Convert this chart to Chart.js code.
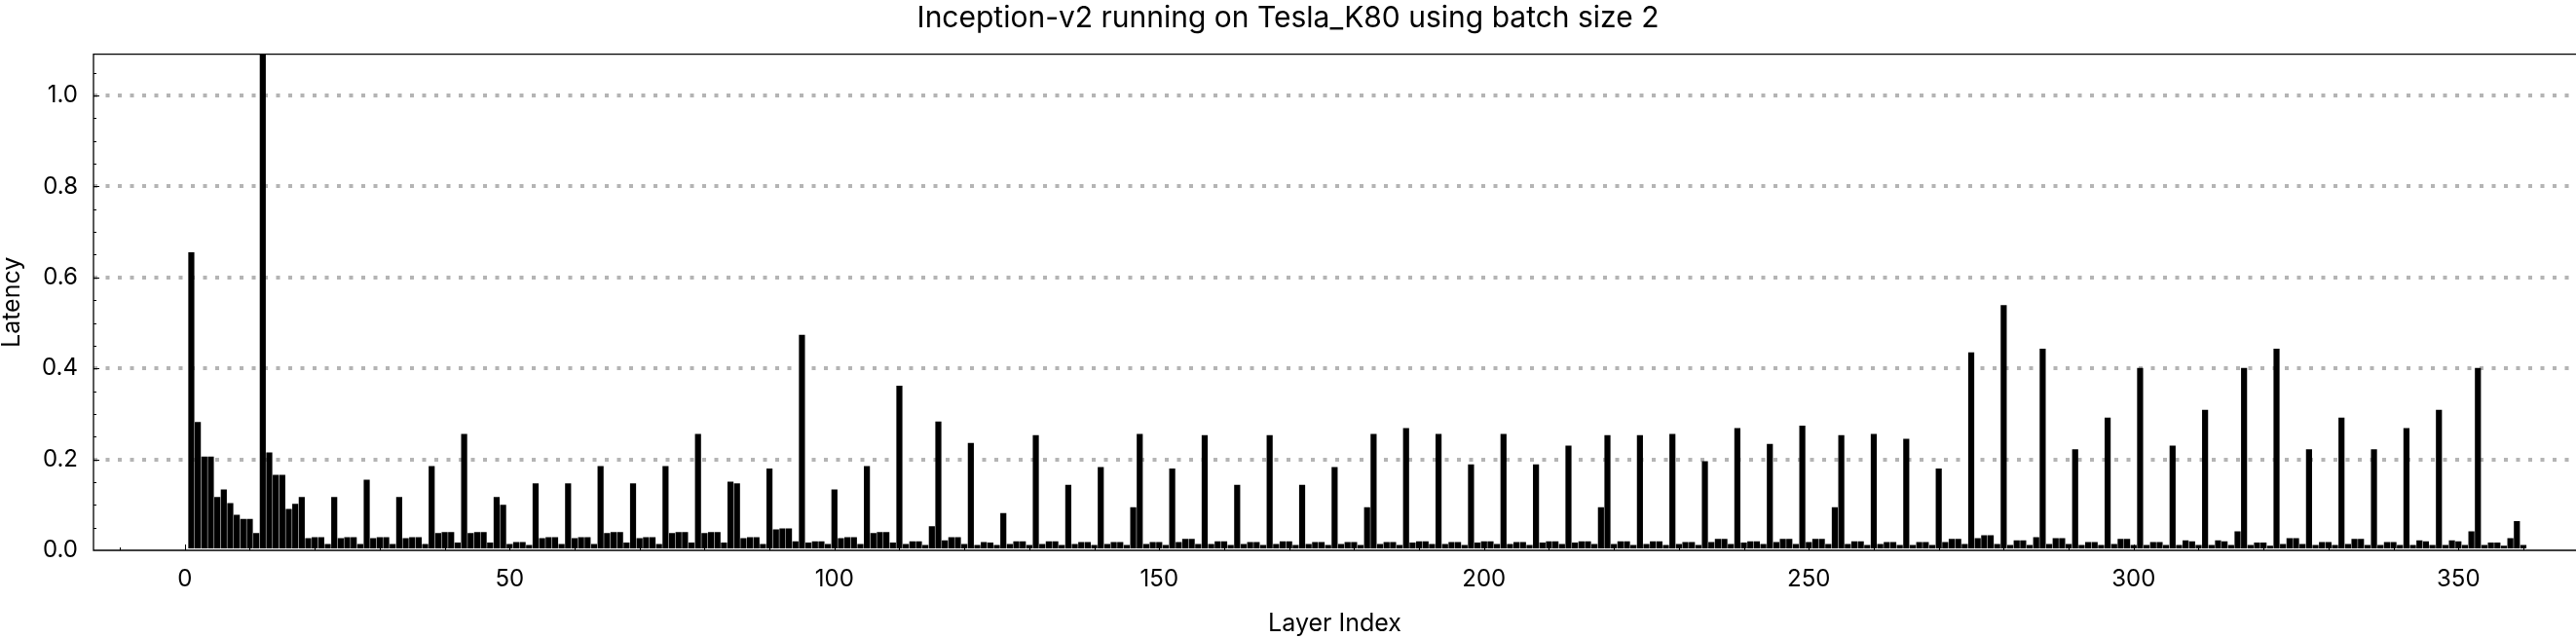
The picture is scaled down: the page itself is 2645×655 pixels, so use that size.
<!DOCTYPE html>
<html>
<head>
<meta charset="utf-8">
<script src="https://cdn.jsdelivr.net/npm/chart.js@4.4.1/dist/chart.umd.min.js"></script>
<style>
  html, body { margin: 0; padding: 0; background: #fff; }
  #wrap { width: 2645px; height: 655px; }
</style>
</head>
<body>
<div id="wrap"><canvas id="chart" width="2645" height="655"></canvas></div>
<script>
// latency per layer, layers 1..360 (layer 12 is clipped above the plot top)
const latency = [
    0.655, 0.282, 0.206, 0.206, 0.117, 0.134, 0.104, 0.078, 0.069, 0.069,
    0.038, 1.25, 0.215, 0.166, 0.166, 0.091, 0.102, 0.117, 0.027, 0.029,
    0.029, 0.014, 0.117, 0.027, 0.029, 0.029, 0.014, 0.155, 0.027, 0.029,
    0.029, 0.014, 0.117, 0.027, 0.029, 0.029, 0.014, 0.185, 0.038, 0.040,
    0.040, 0.017, 0.256, 0.038, 0.040, 0.040, 0.017, 0.117, 0.100, 0.014,
    0.018, 0.018, 0.012, 0.147, 0.027, 0.029, 0.029, 0.014, 0.147, 0.027,
    0.029, 0.029, 0.014, 0.185, 0.038, 0.040, 0.040, 0.017, 0.147, 0.027,
    0.029, 0.029, 0.014, 0.185, 0.038, 0.040, 0.040, 0.017, 0.256, 0.038,
    0.040, 0.040, 0.017, 0.151, 0.147, 0.027, 0.029, 0.029, 0.014, 0.180,
    0.046, 0.048, 0.048, 0.020, 0.474, 0.017, 0.020, 0.020, 0.014, 0.134,
    0.027, 0.029, 0.029, 0.014, 0.185, 0.038, 0.040, 0.040, 0.017, 0.362,
    0.014, 0.020, 0.020, 0.012, 0.053, 0.283, 0.022, 0.029, 0.029, 0.014,
    0.236, 0.012, 0.018, 0.017, 0.012, 0.082, 0.014, 0.020, 0.020, 0.012,
    0.253, 0.014, 0.020, 0.020, 0.012, 0.144, 0.014, 0.018, 0.018, 0.012,
    0.183, 0.014, 0.018, 0.018, 0.012, 0.095, 0.256, 0.014, 0.018, 0.018,
    0.012, 0.180, 0.018, 0.025, 0.025, 0.014, 0.253, 0.014, 0.020, 0.020,
    0.012, 0.144, 0.014, 0.018, 0.018, 0.012, 0.253, 0.014, 0.020, 0.020,
    0.012, 0.144, 0.014, 0.018, 0.018, 0.012, 0.183, 0.014, 0.018, 0.018,
    0.012, 0.095, 0.256, 0.014, 0.018, 0.018, 0.012, 0.269, 0.017, 0.020,
    0.020, 0.014, 0.256, 0.014, 0.018, 0.018, 0.012, 0.189, 0.017, 0.020,
    0.020, 0.014, 0.256, 0.014, 0.018, 0.018, 0.012, 0.189, 0.017, 0.020,
    0.020, 0.014, 0.230, 0.017, 0.020, 0.020, 0.014, 0.095, 0.253, 0.014,
    0.020, 0.020, 0.012, 0.253, 0.014, 0.020, 0.020, 0.012, 0.256, 0.014,
    0.018, 0.018, 0.012, 0.196, 0.018, 0.025, 0.025, 0.014, 0.269, 0.017,
    0.020, 0.020, 0.014, 0.234, 0.018, 0.025, 0.025, 0.014, 0.274, 0.018,
    0.025, 0.025, 0.014, 0.095, 0.253, 0.014, 0.020, 0.020, 0.012, 0.256,
    0.014, 0.018, 0.018, 0.012, 0.245, 0.012, 0.018, 0.018, 0.012, 0.180,
    0.018, 0.025, 0.025, 0.014, 0.435, 0.027, 0.033, 0.033, 0.014, 0.539,
    0.012, 0.022, 0.022, 0.012, 0.029, 0.443, 0.014, 0.027, 0.027, 0.014,
    0.222, 0.012, 0.018, 0.018, 0.012, 0.292, 0.014, 0.025, 0.025, 0.012,
    0.401, 0.012, 0.018, 0.018, 0.012, 0.230, 0.012, 0.022, 0.020, 0.012,
    0.309, 0.012, 0.022, 0.020, 0.012, 0.042, 0.401, 0.012, 0.017, 0.017,
    0.010, 0.443, 0.014, 0.027, 0.027, 0.014, 0.222, 0.012, 0.018, 0.018,
    0.012, 0.292, 0.014, 0.025, 0.025, 0.012, 0.222, 0.012, 0.018, 0.018,
    0.012, 0.269, 0.012, 0.022, 0.020, 0.012, 0.309, 0.012, 0.022, 0.020,
    0.012, 0.042, 0.401, 0.012, 0.017, 0.017, 0.010, 0.027, 0.064, 0.012
];
const layerIndex = latency.map((v, i) => i + 1);

const xTicks = [0, 50, 100, 150, 200, 250, 300, 350];
const yTicks = [0, 0.2, 0.4, 0.6, 0.8, 1.0];
const xMinorStep = 10;
const yMinorStep = 0.05;

const titleText = 'Inception-v2 running on Tesla_K80 using batch size 2';
const xTitle = 'Layer Index';
const yTitle = 'Latency';

Chart.defaults.font.family = 'Inter, "Noto Sans", sans-serif';
Chart.defaults.color = '#000';

// frame (left, bottom, top) with inward ticks like the original plot
const frame = {
    id: 'frame',
    afterDraw(chart) {
        const {ctx, chartArea: a, scales: {x, y}} = chart;
        ctx.save();
        ctx.strokeStyle = '#000';
        ctx.lineWidth = 1;
        ctx.beginPath();
        for (let v = Math.ceil(x.min / xMinorStep) * xMinorStep; v <= x.max; v += xMinorStep) {
            const px = Math.round(x.getPixelForValue(v)) + 0.5;
            const len = v % 50 === 0 ? 6 : 3;
            ctx.moveTo(px, a.bottom);
            ctx.lineTo(px, a.bottom - len);
        }
        for (let k = 1; k * yMinorStep <= y.max; k++) {
            const v = k * yMinorStep;
            const py = Math.round(y.getPixelForValue(v)) + 0.5;
            const len = k % 4 === 0 ? 6 : 3;
            ctx.moveTo(a.left, py);
            ctx.lineTo(a.left + len, py);
        }
        ctx.stroke();

        ctx.lineWidth = 1.3;
        ctx.beginPath();
        ctx.moveTo(a.right, a.top);
        ctx.lineTo(a.left, a.top);
        ctx.lineTo(a.left, a.bottom);
        ctx.lineTo(a.right, a.bottom);
        ctx.stroke();
        ctx.restore();
    }
};

new Chart(document.getElementById('chart'), {
    type: 'bar',
    data: {
        labels: layerIndex,
        datasets: [{
            data: latency,
            backgroundColor: '#000',
            borderWidth: 0,
            categoryPercentage: 1.0,
            barPercentage: 0.93
        }]
    },
    options: {
        responsive: false,
        animation: false,
        devicePixelRatio: 1,
        layout: { padding: 0 },
        plugins: {
            legend: { display: false },
            tooltip: { enabled: false },
            title: {
                display: true,
                text: titleText,
                color: '#000',
                font: { size: 30, weight: 'normal', lineHeight: 1.2 },
                padding: { top: 1, bottom: 18.7 }
            }
        },
        scales: {
            x: {
                type: 'linear',
                offset: false,
                min: -14.06,
                max: 368.1,
                afterBuildTicks: s => { s.ticks = xTicks.map(v => ({ value: v })); },
                afterFit: s => { s.height = 90; },
                grid: { display: false, drawTicks: false },
                border: { display: false },
                ticks: {
                    autoSkip: false,
                    maxRotation: 0,
                    padding: 15,
                    font: { size: 24 },
                    callback: v => String(v)
                },
                title: {
                    display: true,
                    text: xTitle,
                    font: { size: 25, lineHeight: 1.0 },
                    padding: { top: 0, bottom: 2 }
                }
            },
            y: {
                min: 0,
                max: 1.0906,
                afterBuildTicks: s => { s.ticks = yTicks.map(v => ({ value: v })); },
                afterFit: s => { s.width = 96; },
                grid: {
                    drawTicks: false,
                    lineWidth: 4,
                    color: c => c.tick && c.tick.value === 0 ? 'rgba(0,0,0,0)' : '#b4b4b4'
                },
                border: { display: false, dash: [4, 8.5] },
                ticks: {
                    padding: 16,
                    font: { size: 24 },
                    callback: v => v.toFixed(1)
                },
                title: {
                    display: true,
                    text: yTitle,
                    font: { size: 25, lineHeight: 1.0 },
                    padding: { top: 0, bottom: 0 }
                }
            }
        }
    },
    plugins: [frame]
});
</script>
</body>
</html>
